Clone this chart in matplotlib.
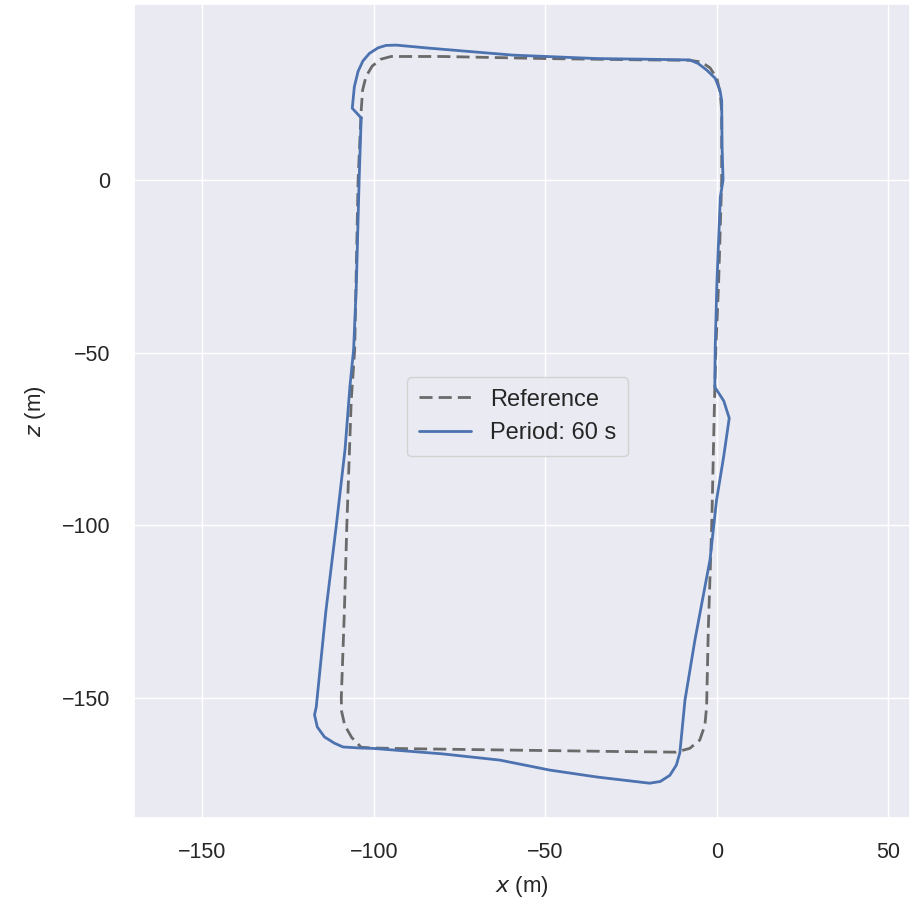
import numpy as np
import matplotlib.pyplot as plt
import seaborn as sns

sns.set_theme(style='darkgrid')
plt.rcParams['font.family'] = ['Liberation Sans', 'DejaVu Sans']

#%% Data

ref_x = [-103.7, -103.3, -102.3, -100.5, -98.0, -95.0, -80.0, -50.0, -20.0, -8.0,
         -4.5, -2.0, 0.0, 1.0, 1.4, 1.4, 0.5, -0.3, -0.6, -1.5, -2.5, -3.0, -3.5,
         -5.0, -7.9, -12.0, -30.0, -60.0, -90.0, -100.0, -103.7, -106.5, -108.5,
         -109.4, -109.5, -108.6, -107.9, -106.6, -105.6, -104.6, -103.7]
ref_z = [20.0, 26.0, 30.0, 33.0, 35.0, 35.8, 35.8, 35.2, 34.8, 34.7,
         34.2, 32.5, 29.5, 25.0, 20.0, 0.0, -30.0, -49.0, -60.0, -100.0, -130.0, -152.7, -158.0,
         -162.3, -164.7, -165.8, -165.6, -165.2, -164.8, -164.6, -164.4, -161.5, -158.0,
         -154.0, -150.0, -125.0, -100.5, -63.8, -49.3, 0.0, 20.0]

run_x = [-103.7, -104.3, -105.1, -105.9, -107.0, -108.4, -111.0, -114.0, -116.8, -117.3,
         -116.5, -114.4, -111.5, -109.0, -104.0, -100.4, -80.0, -63.3, -48.7, -35.0,
         -19.6, -16.5, -13.7, -11.8, -10.8, -9.3, -6.4, -2.0, -0.1, 2.0,
         3.6, 2.0, -0.6, -0.5, 0.0, 1.0, 1.8, 1.5, 1.4, 0.9,
         -0.5, -3.0, -5.5, -7.9, -20.0, -35.1, -59.5, -83.7, -93.5, -96.5,
         -98.8, -101.3, -103.2, -104.6, -105.7, -106.3, -103.7]
run_z = [18.0, 0.0, -30.0, -49.0, -60.0, -78.0, -100.5, -125.0, -152.7, -155.0,
         -158.5, -161.4, -163.2, -164.3, -164.6, -164.7, -166.3, -168.1, -171.0, -173.0,
         -174.8, -174.3, -172.5, -169.5, -166.0, -150.7, -133.3, -110.0, -92.8, -80.0,
         -69.0, -64.0, -60.0, -49.0, -30.0, -5.0, 0.0, 10.0, 23.0, 26.0,
         29.5, 31.9, 33.8, 34.8, 35.0, 35.2, 36.2, 38.2, 39.1, 39.0,
         38.3, 36.7, 34.5, 31.5, 27.0, 20.8, 18.0]

x_ticks = [-150, -100, -50, 0, 50]
z_ticks = [-150, -100, -50, 0]

#%% Plot

fig = plt.figure(figsize=(9.1, 8.97), dpi=100)
ax = fig.add_axes([0.147, 0.088, 0.853, 0.9075])

ax.plot(ref_x, ref_z, color='#6a6a6a', lw=2.0, dashes=(4.7, 2.2), label='Reference')
ax.plot(run_x, run_z, color='#4C72B0', lw=2.0, label='Period: 60 s')

ax.set_xlim(-170, 56.3)
ax.set_ylim(-184.9, 51)
ax.set_xticks(x_ticks)
ax.set_yticks(z_ticks)
ax.tick_params(labelsize=15.5, pad=17, length=0, labelcolor='#262626')
ax.set_xlabel('$x$ (m)', fontsize=16, labelpad=8, color='#262626')
ax.set_ylabel('$z$ (m)', fontsize=16, labelpad=10, color='#262626')

ax.legend(loc='upper left', bbox_to_anchor=(0.352, 0.542), borderaxespad=0,
          fontsize=17, handlelength=2.2, borderpad=0.5, edgecolor='#cccccc',
          facecolor='#EAEAF2', framealpha=0.8)

plt.savefig('out.png', dpi=100)
